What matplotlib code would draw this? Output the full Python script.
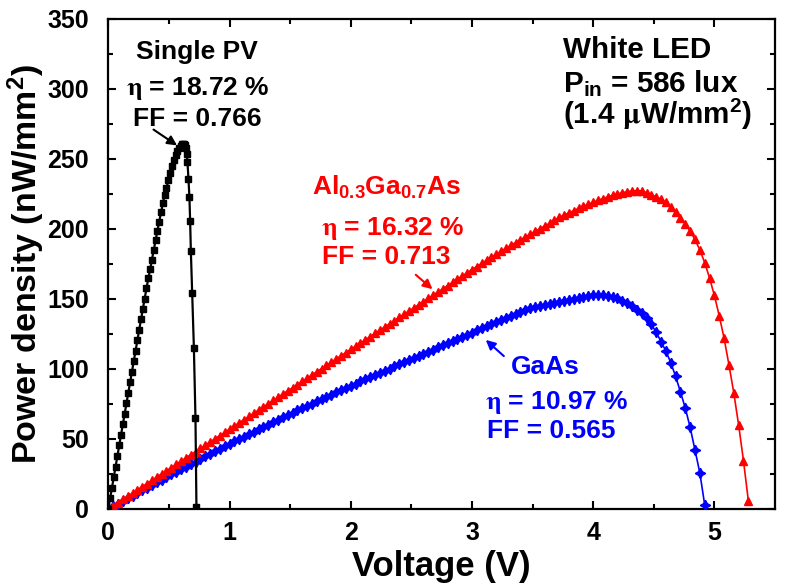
import matplotlib
matplotlib.use("Agg")
import matplotlib.pyplot as plt

plt.rcParams['font.family'] = ['Liberation Sans', 'DejaVu Sans']
plt.rcParams['font.weight'] = 'bold'
plt.rcParams['mathtext.fontset'] = 'stix'
plt.rcParams['mathtext.default'] = 'regular'

# ---- data ----
single_v = [0.000, 0.015, 0.030, 0.045, 0.060, 0.075, 0.090, 0.105, 0.120, 0.135,
            0.150, 0.165, 0.180, 0.195, 0.210, 0.225, 0.240, 0.255, 0.270, 0.285,
            0.300, 0.315, 0.330, 0.345, 0.360, 0.375, 0.390, 0.405, 0.420, 0.435,
            0.450, 0.465, 0.480, 0.495, 0.510, 0.525, 0.540, 0.555, 0.570, 0.585,
            0.600, 0.608, 0.616, 0.624, 0.632, 0.640, 0.647, 0.653, 0.661, 0.669,
            0.675, 0.681, 0.692, 0.706, 0.719, 0.727]
single_p = [0.0, 7.6, 15.1, 22.7, 30.3, 37.8, 45.4, 53.0, 60.5, 68.1,
            75.6, 83.1, 90.6, 98.1, 105.6, 113.1, 120.6, 128.1, 135.5, 142.9,
            150.3, 157.6, 164.8, 171.1, 178.2, 185.0, 191.9, 198.6, 205.3, 211.9,
            218.3, 224.6, 229.0, 234.8, 240.0, 244.8, 249.0, 252.6, 255.6, 258.0,
            259.6, 260.5, 261.0, 260.8, 259.8, 257.8, 253.5, 248.0, 236.0, 223.0,
            206.0, 184.0, 154.0, 115.0, 65.0, 1.6]

algaas_v = [0.00, 0.04, 0.08, 0.12, 0.16, 0.20, 0.24, 0.28, 0.32, 0.36,
            0.40, 0.44, 0.48, 0.52, 0.56, 0.60, 0.64, 0.68, 0.72, 0.76,
            0.80, 0.84, 0.88, 0.92, 0.96, 1.00, 1.04, 1.08, 1.12, 1.16,
            1.20, 1.24, 1.28, 1.32, 1.36, 1.40, 1.44, 1.48, 1.52, 1.56,
            1.60, 1.64, 1.68, 1.72, 1.76, 1.80, 1.84, 1.88, 1.92, 1.96,
            2.00, 2.04, 2.08, 2.12, 2.16, 2.20, 2.24, 2.28, 2.32, 2.36,
            2.40, 2.44, 2.48, 2.52, 2.56, 2.60, 2.64, 2.68, 2.72, 2.76,
            2.80, 2.84, 2.88, 2.92, 2.96, 3.00, 3.04, 3.08, 3.12, 3.16,
            3.20, 3.24, 3.28, 3.32, 3.36, 3.40, 3.44, 3.48, 3.52, 3.56,
            3.60, 3.64, 3.68, 3.72, 3.76, 3.80, 3.84, 3.88, 3.92, 3.96,
            4.00, 4.04, 4.08, 4.12, 4.16, 4.20, 4.24, 4.28, 4.32, 4.36,
            4.40, 4.44, 4.48, 4.52, 4.56, 4.60, 4.64, 4.68, 4.72, 4.76,
            4.80, 4.84, 4.88, 4.92, 4.96, 5.00, 5.04, 5.08, 5.12, 5.16,
            5.20, 5.24, 5.28]
algaas_p = [0.0, 2.3, 4.6, 6.8, 9.1, 11.4, 13.7, 16.0, 18.2, 20.5,
            22.8, 25.1, 27.4, 29.6, 31.9, 34.2, 36.5, 38.8, 41.0, 43.3,
            45.6, 47.9, 50.2, 52.4, 54.7, 57.0, 59.3, 61.6, 63.8, 66.1,
            68.4, 70.7, 73.0, 75.2, 77.5, 79.8, 82.1, 84.4, 86.6, 88.9,
            91.2, 93.5, 95.8, 98.0, 100.3, 102.6, 104.9, 107.2, 109.4, 111.7,
            114.0, 116.3, 118.6, 120.8, 123.1, 125.4, 127.7, 130.0, 132.2, 134.5,
            136.8, 139.1, 141.4, 143.6, 145.9, 148.2, 150.5, 152.8, 155.0, 157.3,
            159.6, 161.9, 164.2, 166.4, 168.7, 171.0, 173.2, 175.4, 177.6, 179.8,
            182.0, 184.1, 186.2, 188.3, 190.3, 192.3, 194.3, 196.3, 198.3, 200.2,
            202.1, 204.0, 206.1, 208.3, 209.9, 211.5, 213.1, 214.7, 216.2, 217.7,
            219.1, 220.5, 221.7, 222.9, 224.0, 225.0, 225.9, 226.6, 227.2, 227.4,
            227.2, 226.0, 224.5, 223.0, 221.2, 219.0, 216.0, 212.3, 208.2, 203.7,
            198.5, 192.5, 185.0, 176.0, 165.0, 152.5, 138.0, 122.0, 103.0, 83.0,
            60.0, 34.5, 6.0]

gaas_v = [0.00, 0.04, 0.08, 0.12, 0.16, 0.20, 0.24, 0.28, 0.32, 0.36,
          0.40, 0.44, 0.48, 0.52, 0.56, 0.60, 0.64, 0.68, 0.72, 0.76,
          0.80, 0.84, 0.88, 0.92, 0.96, 1.00, 1.04, 1.08, 1.12, 1.16,
          1.20, 1.24, 1.28, 1.32, 1.36, 1.40, 1.44, 1.48, 1.52, 1.56,
          1.60, 1.64, 1.68, 1.72, 1.76, 1.80, 1.84, 1.88, 1.92, 1.96,
          2.00, 2.04, 2.08, 2.12, 2.16, 2.20, 2.24, 2.28, 2.32, 2.36,
          2.40, 2.44, 2.48, 2.52, 2.56, 2.60, 2.64, 2.68, 2.72, 2.76,
          2.80, 2.84, 2.88, 2.92, 2.96, 3.00, 3.04, 3.08, 3.12, 3.16,
          3.20, 3.24, 3.28, 3.32, 3.36, 3.40, 3.44, 3.48, 3.52, 3.56,
          3.60, 3.64, 3.68, 3.72, 3.76, 3.80, 3.84, 3.88, 3.92, 3.96,
          4.00, 4.04, 4.08, 4.12, 4.16, 4.20, 4.24, 4.28, 4.32, 4.36,
          4.40, 4.44, 4.48, 4.52, 4.56, 4.60, 4.64, 4.68, 4.72, 4.76,
          4.80, 4.84, 4.88, 4.92]
gaas_p = [0.0, 1.9, 3.9, 5.8, 7.7, 9.6, 11.5, 13.4, 15.3, 17.2,
          19.1, 21.0, 22.8, 24.7, 26.5, 28.4, 30.2, 32.1, 33.9, 35.7,
          37.5, 39.3, 41.1, 42.9, 44.7, 46.5, 48.3, 50.0, 51.7, 53.5,
          55.2, 56.9, 58.6, 60.3, 62.0, 63.7, 65.4, 67.0, 68.7, 70.4,
          72.0, 73.6, 75.3, 76.9, 78.5, 80.1, 81.7, 83.3, 84.9, 86.4,
          88.0, 89.6, 91.1, 92.7, 94.2, 95.7, 97.3, 98.8, 100.3, 101.8,
          103.3, 104.8, 106.3, 107.8, 109.3, 110.9, 112.4, 113.9, 115.5, 117.0,
          118.5, 120.0, 121.5, 123.0, 124.5, 126.0, 127.5, 129.0, 130.4, 131.9,
          133.4, 134.8, 136.3, 137.7, 139.2, 140.6, 142.1, 143.5, 144.6, 145.3,
          146.0, 146.7, 147.4, 148.0, 148.7, 149.4, 150.1, 150.8, 151.5, 152.2,
          152.8, 153.0, 152.9, 152.4, 151.6, 150.4, 148.8, 146.9, 144.8, 142.4,
          139.8, 136.5, 131.8, 126.3, 119.4, 112.9, 104.5, 94.8, 83.6, 72.1,
          58.3, 42.1, 25.8, 3.0]

x_ticks = [0, 1, 2, 3, 4, 5]
y_ticks = [0, 50, 100, 150, 200, 250, 300, 350]

# ---- figure ----
fig = plt.figure(figsize=(7.86, 5.86), dpi=100)
ax = fig.add_axes([0.1378, 0.1314, 0.8482, 0.8362])

ax.plot(gaas_v, gaas_p, color='#0000FF', lw=1.2, marker=(4, 1, 0), ms=7.5,
        mec='#0000FF', mfc='#0000FF', zorder=3)
ax.plot(algaas_v, algaas_p, color='#FF0000', lw=1.2, marker='^', ms=6.3,
        mec='#FF0000', mfc='#FF0000', zorder=4)
ax.plot(single_v, single_p, color='black', lw=1.6, marker='s', ms=4.6,
        mec='black', mfc='black', zorder=5)

ax.set_xlim(0, 5.5)
ax.set_ylim(0, 350)
ax.set_xticks(x_ticks)
ax.set_yticks(y_ticks)
ax.set_xticks([0.5, 1.5, 2.5, 3.5, 4.5], minor=True)
ax.set_yticks([25, 75, 125, 175, 225, 275, 325], minor=True)
ax.tick_params(which='both', direction='in', top=True, right=True, width=1.5,
               labelsize=18)
ax.tick_params(axis='y', which='both', pad=14)
ax.tick_params(axis='x', which='both', pad=9)
ax.tick_params(which='major', length=6)
ax.tick_params(which='minor', length=3.5)
ax.tick_params(axis='x', which='both', labeltop=False)
for s in ax.spines.values():
    s.set_linewidth(1.6)
for lab in ax.get_xticklabels() + ax.get_yticklabels():
    lab.set_fontweight('bold')

ax.set_xlabel('Voltage (V)', fontsize=25, fontweight='bold', labelpad=3)
ax.set_ylabel('Power density (nW/mm$^{2}$)', fontsize=24.5, fontweight='bold', labelpad=0)

fs = 19
# Single PV
ax.text(0.733, 326.4, 'Single PV', fontsize=fs, color='black', ha='center', va='center')
ax.text(0.733, 300.4, r'$\mathrm{\eta}$ = 18.72 %', fontsize=fs, color='black', ha='center', va='center')
ax.text(0.733, 278.6, 'FF = 0.766', fontsize=fs, color='black', ha='center', va='center')
ax.annotate('', xy=(0.586, 258.6), xytext=(0.354, 272.1),
            arrowprops=dict(arrowstyle='-|>', color='black', lw=1.5, mutation_scale=14))

# AlGaAs
ax.text(2.295, 230, r'Al$_{0.3}$Ga$_{0.7}$As', fontsize=fs, color='#FF0000', ha='center', va='center')
ax.text(2.345, 200.5, r'$\mathrm{\eta}$ = 16.32 %', fontsize=fs, color='#FF0000', ha='center', va='center')
ax.text(2.29, 180, 'FF = 0.713', fontsize=fs, color='#FF0000', ha='center', va='center')
ax.annotate('', xy=(2.692, 155.7), xytext=(2.519, 168.6),
            arrowprops=dict(arrowstyle='-|>', color='#FF0000', lw=1.5, mutation_scale=14))

# GaAs
ax.text(3.32, 101.5, 'GaAs', fontsize=fs, color='#0000FF', ha='left', va='center')
ax.text(3.11, 76, r'$\mathrm{\eta}$ = 10.97 %', fontsize=fs, color='#0000FF', ha='left', va='center')
ax.text(3.12, 56, 'FF = 0.565', fontsize=fs, color='#0000FF', ha='left', va='center')
ax.annotate('', xy=(3.097, 122.1), xytext=(3.28, 107.9),
            arrowprops=dict(arrowstyle='-|>', color='#0000FF', lw=1.5, mutation_scale=14))

# White LED
fs2 = 21.3
ax.text(3.75, 327.5, 'White LED', fontsize=fs2, color='black', ha='left', va='center')
ax.text(3.75, 304, r'P$_{in}$ = 586 lux', fontsize=fs2, color='black', ha='left', va='center')
ax.text(3.75, 282, r'(1.4 $\mathrm{\mu}$W/mm$^{2}$)', fontsize=fs2, color='black', ha='left', va='center')

fig.savefig('out.png', dpi=100)
